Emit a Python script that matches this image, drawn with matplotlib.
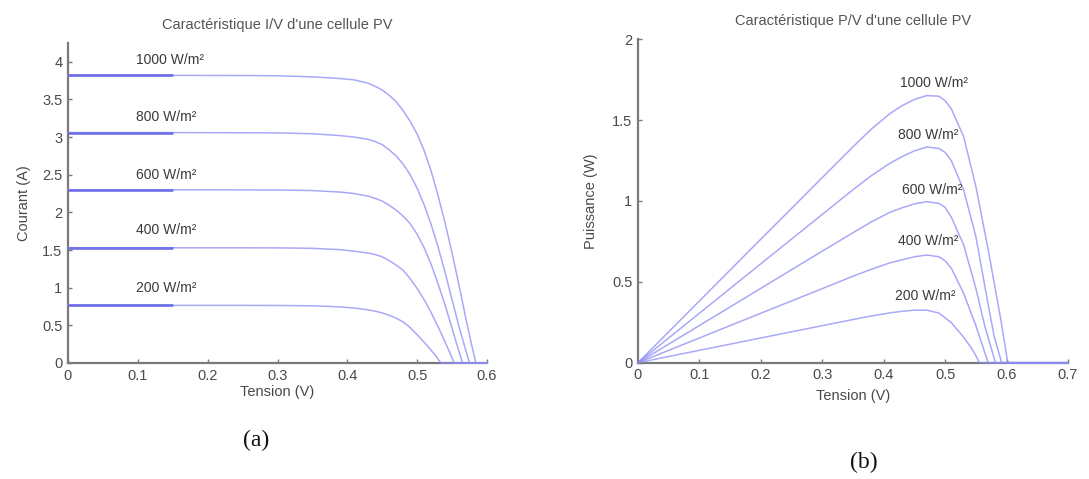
import matplotlib
matplotlib.use("Agg")
import matplotlib.pyplot as plt

# ---------------- data ----------------
irradiance_labels = ["1000 W/m²", "800 W/m²", "600 W/m²", "400 W/m²", "200 W/m²"]

# I-V characteristic (left)
iv_v_1000 = [0, 0.15, 0.25, 0.30, 0.35, 0.38, 0.41, 0.43, 0.44, 0.45, 0.46, 0.47, 0.48, 0.49, 0.50, 0.51, 0.52, 0.53, 0.54, 0.55, 0.56, 0.57, 0.578, 0.584, 0.60]
iv_i_1000 = [3.82, 3.82, 3.818, 3.815, 3.80, 3.785, 3.76, 3.715, 3.675, 3.625, 3.555, 3.47, 3.35, 3.21, 3.04, 2.82, 2.55, 2.22, 1.86, 1.46, 1.03, 0.58, 0.24, 0, 0]
iv_v_800 = [0, 0.15, 0.25, 0.30, 0.35, 0.39, 0.41, 0.43, 0.44, 0.45, 0.46, 0.47, 0.48, 0.49, 0.50, 0.51, 0.52, 0.53, 0.54, 0.55, 0.56, 0.568, 0.575, 0.60]
iv_i_800 = [3.06, 3.06, 3.058, 3.056, 3.045, 3.02, 3.0, 2.97, 2.94, 2.90, 2.83, 2.75, 2.64, 2.50, 2.32, 2.10, 1.84, 1.54, 1.20, 0.84, 0.48, 0.22, 0, 0]
iv_v_600 = [0, 0.15, 0.25, 0.30, 0.35, 0.39, 0.41, 0.43, 0.44, 0.45, 0.46, 0.47, 0.48, 0.49, 0.50, 0.51, 0.52, 0.53, 0.54, 0.55, 0.558, 0.565, 0.60]
iv_i_600 = [2.30, 2.30, 2.299, 2.298, 2.29, 2.27, 2.25, 2.215, 2.186, 2.15, 2.095, 2.03, 1.95, 1.85, 1.71, 1.53, 1.31, 1.05, 0.77, 0.46, 0.21, 0, 0]
iv_v_400 = [0, 0.15, 0.25, 0.30, 0.35, 0.39, 0.41, 0.43, 0.44, 0.45, 0.46, 0.47, 0.48, 0.49, 0.50, 0.51, 0.52, 0.53, 0.54, 0.547, 0.553, 0.60]
iv_i_400 = [1.53, 1.53, 1.53, 1.529, 1.523, 1.505, 1.485, 1.46, 1.44, 1.41, 1.36, 1.30, 1.23, 1.12, 0.99, 0.84, 0.67, 0.48, 0.28, 0.13, 0, 0]
iv_v_200 = [0, 0.15, 0.25, 0.30, 0.35, 0.39, 0.41, 0.43, 0.44, 0.45, 0.46, 0.47, 0.48, 0.49, 0.50, 0.51, 0.52, 0.527, 0.534, 0.60]
iv_i_200 = [0.765, 0.765, 0.765, 0.764, 0.76, 0.745, 0.73, 0.706, 0.688, 0.665, 0.634, 0.595, 0.545, 0.47, 0.375, 0.275, 0.17, 0.09, 0, 0]

# P-V characteristic (right)
pv_v_1000 = [0, 0.10, 0.20, 0.30, 0.35, 0.38, 0.41, 0.43, 0.45, 0.47, 0.49, 0.50, 0.51, 0.53, 0.55, 0.57, 0.59, 0.602, 0.70]
pv_p_1000 = [0, 0.382, 0.764, 1.145, 1.335, 1.445, 1.54, 1.59, 1.628, 1.652, 1.648, 1.62, 1.57, 1.40, 1.09, 0.70, 0.28, 0, 0]
pv_v_800 = [0, 0.10, 0.20, 0.30, 0.35, 0.38, 0.41, 0.43, 0.45, 0.47, 0.49, 0.50, 0.51, 0.53, 0.55, 0.57, 0.58, 0.592, 0.70]
pv_p_800 = [0, 0.306, 0.612, 0.917, 1.07, 1.157, 1.233, 1.275, 1.31, 1.334, 1.325, 1.30, 1.25, 1.07, 0.78, 0.36, 0.16, 0, 0]
pv_v_600 = [0, 0.10, 0.20, 0.30, 0.35, 0.38, 0.41, 0.43, 0.45, 0.47, 0.49, 0.50, 0.51, 0.53, 0.55, 0.565, 0.582, 0.70]
pv_p_600 = [0, 0.23, 0.46, 0.69, 0.804, 0.871, 0.93, 0.958, 0.982, 0.996, 0.985, 0.96, 0.90, 0.73, 0.46, 0.22, 0, 0]
pv_v_400 = [0, 0.10, 0.20, 0.30, 0.35, 0.38, 0.41, 0.43, 0.45, 0.47, 0.49, 0.50, 0.51, 0.53, 0.55, 0.57, 0.70]
pv_p_400 = [0, 0.153, 0.306, 0.458, 0.535, 0.578, 0.617, 0.637, 0.655, 0.666, 0.655, 0.63, 0.585, 0.43, 0.23, 0, 0]
pv_v_200 = [0, 0.10, 0.20, 0.30, 0.35, 0.38, 0.41, 0.43, 0.45, 0.47, 0.49, 0.51, 0.53, 0.545, 0.556, 0.70]
pv_p_200 = [0, 0.0765, 0.153, 0.229, 0.267, 0.289, 0.308, 0.318, 0.325, 0.325, 0.307, 0.248, 0.158, 0.078, 0, 0]

iv_x_ticks = [0, 0.1, 0.2, 0.3, 0.4, 0.5, 0.6]
iv_y_ticks = [0, 0.5, 1, 1.5, 2, 2.5, 3, 3.5, 4]
pv_x_ticks = [0, 0.1, 0.2, 0.3, 0.4, 0.5, 0.6, 0.7]
pv_y_ticks = [0, 0.5, 1, 1.5, 2]

iv_curves = [(iv_v_1000, iv_i_1000), (iv_v_800, iv_i_800), (iv_v_600, iv_i_600),
             (iv_v_400, iv_i_400), (iv_v_200, iv_i_200)]
pv_curves = [(pv_v_1000, pv_p_1000), (pv_v_800, pv_p_800), (pv_v_600, pv_p_600),
             (pv_v_400, pv_p_400), (pv_v_200, pv_p_200)]

# ---------------- style ----------------
plt.rcParams['font.family'] = ['Liberation Sans', 'DejaVu Sans']
LINE = (0.55, 0.55, 0.96)
DARK = (0.38, 0.38, 0.90)
AX = '#7a7a7a'
TXT = '#4a4a4a'

fig = plt.figure(figsize=(10.89, 4.79), dpi=100)
ax1 = fig.add_axes([68 / 1089, 1 - 363 / 479, 419 / 1089, 320 / 479])
ax2 = fig.add_axes([638 / 1089, 1 - 362.7 / 479, 430 / 1089, 323.4 / 479])


def style(ax, xt, yt, xl, yl):
    ax.set_xlim(xl)
    ax.set_ylim(yl)
    ax.set_xticks(xt)
    ax.set_yticks(yt)
    ax.set_xticklabels([f"{t:g}" for t in xt])
    ax.set_yticklabels([f"{t:g}" for t in yt])
    for s in ('top', 'right'):
        ax.spines[s].set_visible(False)
    for s in ('left', 'bottom'):
        ax.spines[s].set_color(AX)
        ax.spines[s].set_linewidth(1.6)
    ax.tick_params(direction='in', length=3, width=1, colors=AX, labelcolor=TXT,
                   labelsize=10.5, pad=4)


style(ax1, iv_x_ticks, iv_y_ticks, (0, 0.6), (0, 4.25))
style(ax2, pv_x_ticks, pv_y_ticks, (0, 0.7), (0, 2))

for v, i in iv_curves:
    ax1.plot(v, i, color=LINE, lw=1.1, alpha=0.75, zorder=3, clip_on=False)
    ax1.plot(v[:2], i[:2], color=DARK, lw=2.0, alpha=0.85, zorder=3, solid_capstyle='butt')

for v, p in pv_curves:
    ax2.plot(v, p, color=LINE, lw=1.1, alpha=0.75, zorder=3, clip_on=False)

# irradiance labels
iv_label_pos = [(0.098, 4.03), (0.098, 3.27), (0.098, 2.50), (0.098, 1.77), (0.098, 1.00)]
pv_label_pos = [(0.427, 1.73), (0.424, 1.41), (0.430, 1.07), (0.424, 0.75), (0.419, 0.41)]
for lab, (x, y) in zip(irradiance_labels, iv_label_pos):
    ax1.text(x, y, lab, fontsize=10, color='#3a3a3a', va='center', ha='left')
for lab, (x, y) in zip(irradiance_labels, pv_label_pos):
    ax2.text(x, y, lab, fontsize=10, color='#3a3a3a', va='center', ha='left')

ax1.set_title("Caractéristique I/V d'une cellule PV", fontsize=10.5, color='#555555', pad=10)
ax2.set_title("Caractéristique P/V d'une cellule PV", fontsize=10.5, color='#555555', pad=10)
ax1.set_xlabel("Tension (V)", fontsize=10.5, color=TXT, labelpad=2)
ax2.set_xlabel("Tension (V)", fontsize=10.5, color=TXT, labelpad=5)
ax1.set_ylabel("Courant (A)", fontsize=10.5, color=TXT, labelpad=8)
ax2.set_ylabel("Puissance (W)", fontsize=10.5, color=TXT, labelpad=10)

fig.text(256 / 1089, 1 - 440 / 479, "(a)", fontsize=17, family='Liberation Serif',
         ha='center', va='center', color='#111111')
fig.text(864 / 1089, 1 - 462 / 479, "(b)", fontsize=17, family='Liberation Serif',
         ha='center', va='center', color='#111111')

fig.savefig("out.png", dpi=100, facecolor='white')
